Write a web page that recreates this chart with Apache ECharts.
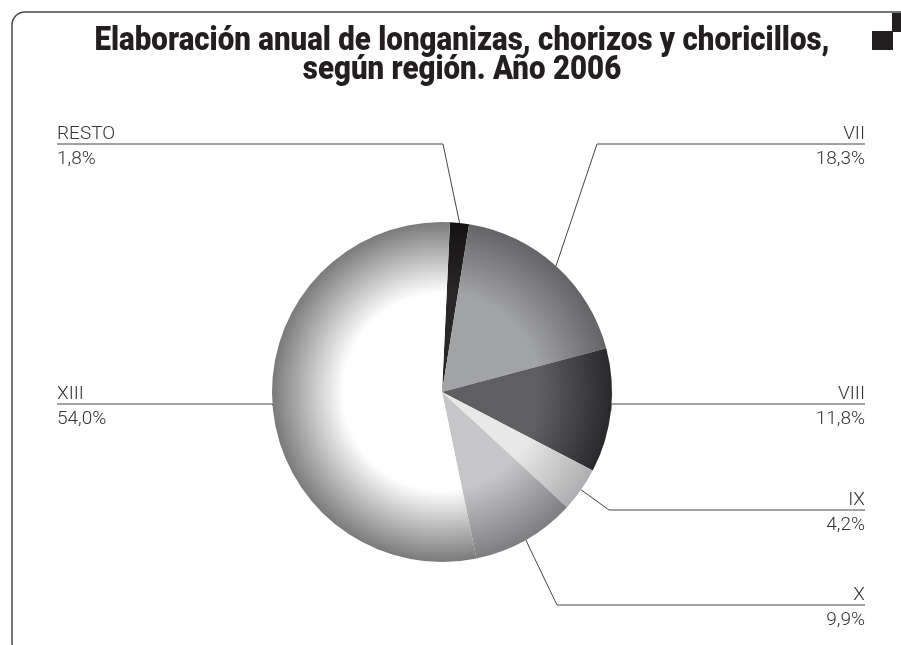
<!DOCTYPE html>
<html>
<head>
<meta charset="utf-8">
<script src="https://cdn.jsdelivr.net/npm/echarts@6/dist/echarts.min.js"></script>
<style>
  html, body { margin: 0; padding: 0; background: #fff; }
  #main { width: 901px; height: 645px; }
</style>
</head>
<body>
<div id="main"></div>
<script>
// datos: región y porcentaje
const regiones = ["RESTO", "VII", "VIII", "IX", "X", "XIII"];
const porcentajes = [1.8, 18.3, 11.8, 4.2, 9.9, 54.0];

// sombreado de cada sector (centro, borde)
const tonos = [
  ["#2a2728", "#141213"],
  ["#a2a3a5", "#646466"],
  ["#5f5f61", "#29292b"],
  ["#e8e8e9", "#aeaeb0"],
  ["#c6c6c8", "#7e7e80"],
  ["#ffffff", "#7a7a7a"]
];

const centro = [442, 392];
const radio = 170;

// posición de las etiquetas (altura de la línea y codo)
const etiquetaY = [144, 144, 404, 510, 605, 404];
const codoX = [443, 597, null, 609, 557, null];
const derecha = [false, true, true, true, true, false];
const bordeIzq = 57, bordeDer = 865;

const titulo = "Elaboración anual de longanizas, chorizos y choricillos,\nsegún región. Año 2006";
const fuenteTitulo = "900 33px Roboto";
const anchoTitulo = 735;

// ancho del título para comprimirlo como letra condensada
const ctx = document.createElement("canvas").getContext("2d");
ctx.font = fuenteTitulo;
const escalaTitulo = anchoTitulo / ctx.measureText(titulo.split("\n")[0]).width;

const fuenteEtiqueta = '"Liberation Sans Narrow", "Roboto", sans-serif';

const mainEl = document.getElementById("main");
const chart = echarts.init(mainEl);

const datos = regiones.map((r, i) => ({
  name: r,
  value: porcentajes[i],
  itemStyle: {
    color: {
      type: "radial",
      x: centro[0], y: centro[1], r: radio,
      global: true,
      colorStops: [
        { offset: 0, color: tonos[i][0] },
        { offset: 0.58, color: tonos[i][0] },
        { offset: 1, color: tonos[i][1] }
      ]
    }
  }
}));

const option = {
  backgroundColor: "#fff",
  animation: false,
  graphic: [
    {
      type: "rect",
      shape: { x: 12, y: 12, width: 1000, height: 643, r: 13 },
      style: { fill: null, stroke: "#4a4a4a", lineWidth: 1.5 },
      silent: true
    },
    { type: "rect", shape: { x: 872, y: 31, width: 21, height: 19 }, style: { fill: "#231f20" } },
    { type: "rect", shape: { x: 892, y: 13, width: 21, height: 19 }, style: { fill: "#231f20" } },
    {
      type: "text",
      x: 462,
      y: 27,
      scaleX: escalaTitulo,
      style: {
        text: titulo,
        font: fuenteTitulo,
        fontWeight: 900,
        fontSize: 33,
        fontFamily: "Roboto",
        lineHeight: 29,
        textAlign: "center",
        textVerticalAlign: "top",
        fill: "#231f20"
      }
    }
  ],
  series: [
    {
      type: "pie",
      center: centro,
      radius: radio,
      startAngle: 87.3,
      clockwise: true,
      avoidLabelOverlap: false,
      emphasis: { disabled: true },
      data: datos,
      label: {
        show: true,
        position: "outside",
        formatter: (p) => p.name + "\n" + p.value.toFixed(1).replace(".", ",") + "%",
        fontFamily: fuenteEtiqueta,
        fontWeight: 300,
        fontSize: 19,
        lineHeight: 25,
        color: "#333"
      },
      labelLine: {
        show: true,
        length: 20,
        length2: 20,
        lineStyle: { color: "#444", width: 1 }
      },
      labelLayout: function (params) {
        const i = params.dataIndex;
        const p0 = params.labelLinePoints ? params.labelLinePoints[0] : null;
        const y = etiquetaY[i];
        const xFin = derecha[i] ? bordeDer : bordeIzq;
        const out = {
          x: xFin,
          y: y + 3,
          align: derecha[i] ? "right" : "left",
          verticalAlign: "middle"
        };
        if (p0) {
          const cx = codoX[i] == null ? p0[0] : codoX[i];
          out.labelLinePoints = [[p0[0], p0[1]], [cx, y], [xFin, y]];
        }
        return out;
      }
    }
  ]
};

chart.setOption(option);
</script>
</body>
</html>
